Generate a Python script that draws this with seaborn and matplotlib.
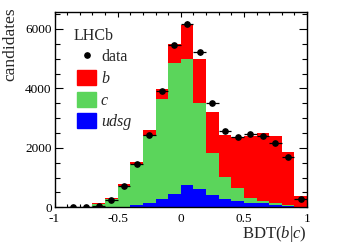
"""
plot.py

Stacked BDT(b|c) template histogram with data points, LHCb style.
"""

import numpy as np
import pandas as pd
import matplotlib
matplotlib.use("Agg")
import matplotlib.pyplot as plt
import seaborn as sns
from matplotlib.lines import Line2D
from matplotlib.patches import Patch
from matplotlib.ticker import MultipleLocator

# 20 bins from -1 to 1
edges = np.linspace(-1, 1, 21)

# template yields per bin (stacked: udsg at bottom, then c, then b)
udsg = [0, 0, 0, 0, 0, 20, 67, 134, 269, 460, 760, 620, 400, 289, 222, 134, 150, 87, 60, 15]
charm = [0, 5, 15, 120, 290, 696, 1378, 2272, 3360, 4378, 4213, 2880, 1435, 719, 416, 168, 72, 47, 20, 10]
beauty = [0, 0, 0, 10, 10, 67, 77, 181, 336, 672, 1152, 1473, 1377, 1421, 1714, 2094, 2264, 2262, 1788, 355]

# observed candidates per bin
data = [np.nan, 15, 20, 60, 230, 700, 1440, 2440, 3920, 5450, 6180, 5210, 3500, 2560,
        2370, 2480, 2400, 2160, 1685, 290]

components = ["b", "c", "udsg"]
colors = {"b": "#ff0000", "c": "#5bd55b", "udsg": "#0000ff"}

sns.set_style("ticks")
plt.rcParams["font.family"] = ["Liberation Serif", "DejaVu Serif"]
plt.rcParams["mathtext.fontset"] = "custom"
plt.rcParams["mathtext.rm"] = "Liberation Serif"
plt.rcParams["mathtext.it"] = "Liberation Serif:italic"
plt.rcParams["axes.unicode_minus"] = False

centers = (edges[:-1] + edges[1:]) / 2
df = pd.DataFrame({
    "bdt": np.tile(centers, 3),
    "n": np.concatenate([beauty, charm, udsg]),
    "comp": np.repeat(components, len(centers)),
})

W, H = 362, 245
fig = plt.figure(figsize=(W / 100, H / 100), dpi=100)
ax = fig.add_axes([54.5 / W, 1 - 207.3 / H, (307 - 54.5) / W, (207.3 - 12.3) / H])

sns.histplot(data=df, x="bdt", weights="n", hue="comp", hue_order=components,
             multiple="stack", bins=edges.tolist(), palette=colors, alpha=1,
             linewidth=0, legend=False, ax=ax)

data = np.array(data, dtype=float)
ax.errorbar(centers, data, xerr=np.diff(edges) / 2, yerr=np.sqrt(data),
            fmt="o", color="black", ms=3.8, elinewidth=0.9, capsize=0)

ax.set_xlim(-1, 1)
ax.set_ylim(0, 6560)
ax.set_xticks([-1, -0.5, 0, 0.5, 1])
ax.set_xticklabels(["-1", "-0.5", "0", "0.5", "1"])
ax.xaxis.set_minor_locator(MultipleLocator(0.1))
ax.set_yticks([0, 2000, 4000, 6000])
ax.yaxis.set_minor_locator(MultipleLocator(500))
ax.tick_params(which="both", direction="in", top=True, right=True,
               labelsize=9.5, width=0.8, colors="black")
ax.tick_params(axis="x", which="major", length=3.3, pad=3.8)
ax.tick_params(axis="x", which="minor", length=2)
ax.tick_params(axis="y", which="major", length=5.8, pad=2)
ax.tick_params(axis="y", which="minor", length=3.6)
for s in ax.spines.values():
    s.set_visible(True)
    s.set_linewidth(1)
    s.set_color("black")
ax.set_xlabel("")
ax.set_ylabel("")

fig.text(10 / W, 1 - 7 / H, "candidates", rotation=90, ha="center", va="top", fontsize=12.5)
fig.text(307 / W, 1 - 234 / H, r"BDT$(b|c)$", ha="right", va="center", fontsize=12)
fig.text(74 / W, 1 - 36 / H, "LHCb", ha="left", va="center", fontsize=11.5)

handles = [Line2D([], [], marker="o", ls="none", color="black", ms=3.8)]
handles += [Patch(color=colors[c]) for c in components]
leg = ax.legend(handles, ["data"] + components, loc="upper left",
                bbox_to_anchor=(77 / W, 1 - 48.5 / H), bbox_transform=fig.transFigure,
                frameon=False, fontsize=11.5, handlelength=1.2, handleheight=1.05,
                handletextpad=0.3, labelspacing=0.3, borderpad=0, borderaxespad=0)
for t in leg.get_texts()[1:]:
    t.set_style("italic")

fig.savefig("out.png", dpi=100)
